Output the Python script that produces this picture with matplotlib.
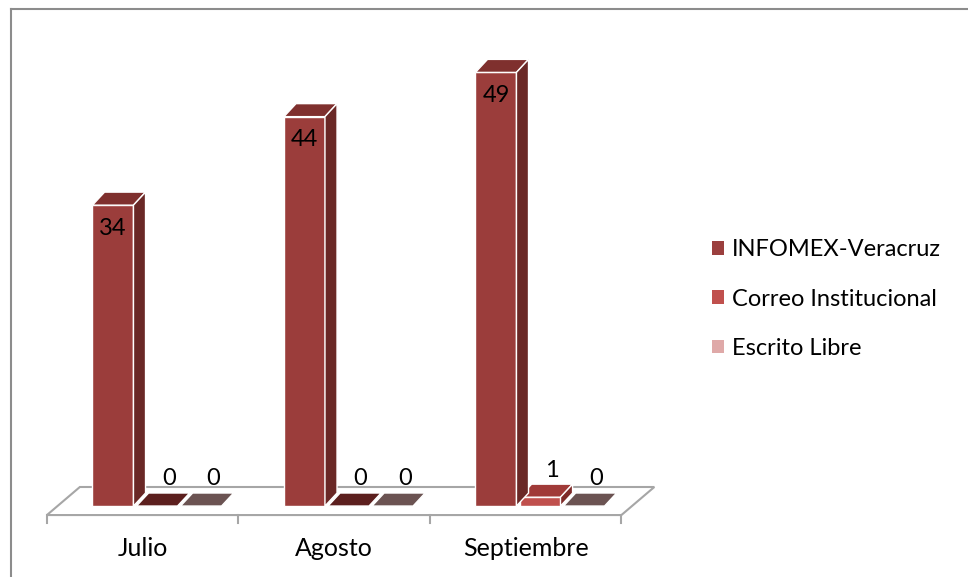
import numpy as np
import matplotlib
matplotlib.use('Agg')
import matplotlib.pyplot as plt
from matplotlib.patches import Polygon, Patch

plt.rcParams['font.family'] = ['Lato', 'DejaVu Sans']

categories = ['Julio', 'Agosto', 'Septiembre']
series = ['INFOMEX-Veracruz', 'Correo Institucional', 'Escrito Libre']
infomex = [34, 44, 49]
correo = [0, 0, 1]
escrito = [0, 0, 0]
values = [infomex, correo, escrito]

front_col = ['#9B3D3B', '#C0504D', '#D99694']
top_col = ['#7F302E', '#A03A38', '#B07A78']
side_col = ['#6A2826', '#7E2A28', '#8E5F5E']
zero_top_col = ['#5C1F1E', '#5C1F1E', '#6B5352']
legend_col = ['#9B3F3E', '#C0504D', '#DFA9A8']

# geometry (data units: 1 category on x, 1 count on y)
bar_w = 0.214
bar_step = 0.23
ddx, ddy = 0.063, 1.47          # depth of the bars
floor_front, floor_back = -1.02, 2.15
floor_x0 = -0.575
floor_shift = 0.172

fig = plt.figure(figsize=(9.68, 5.77), dpi=100)
ax = fig.add_axes([0, 0, 1, 1])
ax.set_xlim(-0.82, 4.235)
ax.set_ylim(-8.02, 57.18)
ax.axis('off')

# outer chart border (only top/left visible)
fig.add_artist(plt.Line2D([11 / 968, 1], [1 - 9 / 577, 1 - 9 / 577], color='#8c8c8c', lw=1.5))
fig.add_artist(plt.Line2D([11 / 968, 11 / 968], [0, 1 - 9 / 577], color='#8c8c8c', lw=1.5))

n = len(categories)
bounds = floor_x0 + np.arange(n + 1) * 1.0
floor = Polygon([(bounds[0], floor_front), (bounds[-1], floor_front),
                 (bounds[-1] + floor_shift, floor_back), (bounds[0] + floor_shift, floor_back)],
                closed=True, facecolor='white', edgecolor='#a6a6a6', lw=1.5, zorder=1)
ax.add_patch(floor)
for b in bounds:
    ax.plot([b, b], [floor_front, floor_front - 0.9], color='#a6a6a6', lw=1.5, zorder=1)
for i, c in enumerate(categories):
    ax.text((bounds[i] + bounds[i + 1]) / 2, -4.75, c, ha='center', va='center', fontsize=18)

x = np.arange(n)
for j in reversed(range(len(series))):
    xs = x + (j - 1) * bar_step
    vals = np.array(values[j])
    ax.bar(xs, vals, width=bar_w, color=front_col[j], edgecolor='white', lw=1, zorder=3 + (2 - j))
    for xc, v in zip(xs, vals):
        l, r = xc - bar_w / 2, xc + bar_w / 2
        tc = zero_top_col[j] if v == 0 else top_col[j]
        ax.add_patch(Polygon([(l, v), (r, v), (r + ddx, v + ddy), (l + ddx, v + ddy)],
                             facecolor=tc, edgecolor='white', lw=1, zorder=3 + (2 - j)))
        if v > 0:
            ax.add_patch(Polygon([(r, 0), (r + ddx, ddy), (r + ddx, v + ddy), (r, v)],
                                 facecolor=side_col[j], edgecolor='white', lw=1, zorder=3 + (2 - j)))
        if j == 0:
            ax.text(xc, v - 2.6, str(v), ha='center', va='center', fontsize=17, zorder=10)
        else:
            ax.text(xc + ddx, v + ddy + 1.6, str(v), ha='center', va='center', fontsize=17, zorder=10)

handles = [Patch(facecolor=legend_col[k], edgecolor='none') for k in range(len(series))]
fig.legend(handles, series, loc='upper left', bbox_to_anchor=(691 / 968, 1 - 218 / 577),
           frameon=False, fontsize=17, handlelength=0.5, handleheight=0.5,
           handletextpad=0.35, labelspacing=1.2)

fig.savefig('out.png', dpi=100)
